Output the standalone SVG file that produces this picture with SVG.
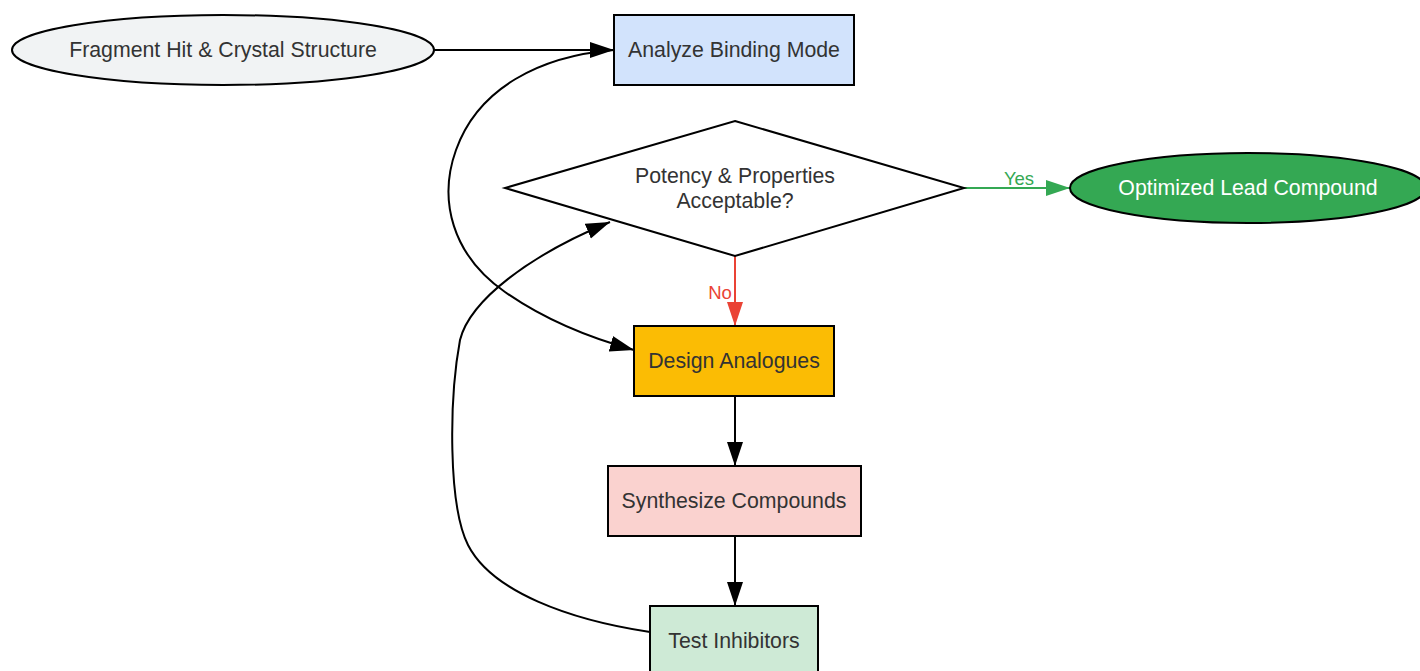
<svg xmlns="http://www.w3.org/2000/svg" width="1420" height="671" viewBox="0 0 1420 671">
<defs>
<style>
.node{stroke:#000;stroke-width:2}
.lbl{font-family:"Liberation Sans",Arial,sans-serif;font-size:21.3px;fill:#333;text-anchor:middle;dominant-baseline:central}
.edge{fill:none;stroke:#000;stroke-width:2}
.elbl{font-family:"Liberation Sans",Arial,sans-serif;font-size:18.5px;text-anchor:middle;dominant-baseline:central}
</style>
<marker id="ah" markerUnits="userSpaceOnUse" markerWidth="24" markerHeight="18" refX="24" refY="9" orient="auto" viewBox="0 0 24 18"><path d="M0,1 L24,9 L0,17 z" fill="#000"/></marker>
<marker id="ahg" markerUnits="userSpaceOnUse" markerWidth="24" markerHeight="18" refX="24" refY="9" orient="auto" viewBox="0 0 24 18"><path d="M0,1 L24,9 L0,17 z" fill="#34a853"/></marker>
<marker id="ahr" markerUnits="userSpaceOnUse" markerWidth="24" markerHeight="18" refX="24" refY="9" orient="auto" viewBox="0 0 24 18"><path d="M0,1 L24,9 L0,17 z" fill="#ea4335"/></marker>
</defs>
<rect width="1420" height="671" fill="#fff"/>
<g id="connectors">
<path class="edge" d="M434,50 L614,50" marker-end="url(#ah)"/>
<path class="edge" d="M614,50 C540,56 478,88 456,150 C438,200 452,255 505,292 C545,320 590,338 634,350" marker-end="url(#ah)"/>
<path class="edge" d="M650,632 C570,620 492,592 468,545 C448,505 449,400 460,340 C470,300 530,255 610,222" marker-end="url(#ah)"/>
<path class="edge" d="M964,188 L1070,188" style="stroke:#34a853" marker-end="url(#ahg)"/>
<text class="elbl" x="1019" y="178" fill="#34a853">Yes</text>
<path class="edge" d="M735,256 L735,326" style="stroke:#ea4335" marker-end="url(#ahr)"/>
<text class="elbl" x="720" y="292" fill="#ea4335">No</text>
<path class="edge" d="M735,396 L735,466" marker-end="url(#ah)"/>
<path class="edge" d="M735,536 L735,606" marker-end="url(#ah)"/>
</g>
<g id="fragment">
<ellipse class="node" cx="223" cy="50" rx="211" ry="35" fill="#f1f3f4"/>
<text class="lbl" x="223" y="50">Fragment Hit &amp; Crystal Structure</text>
</g>
<g id="analyze">
<rect class="node" x="614" y="15" width="240" height="70" fill="#d2e3fc"/>
<text class="lbl" x="734" y="50">Analyze Binding Mode</text>
</g>
<g id="decision">
<polygon class="node" points="735,121 964,188 735,256 505,188" fill="#fff"/>
<text class="lbl" x="735" y="176">Potency &amp; Properties</text>
<text class="lbl" x="735" y="201">Acceptable?</text>
</g>
<g id="lead">
<ellipse class="node" cx="1248" cy="188" rx="178" ry="35" fill="#34a853"/>
<text class="lbl" x="1248" y="188" style="fill:#fff">Optimized Lead Compound</text>
</g>
<g id="design">
<rect class="node" x="634" y="326" width="200" height="70" fill="#fbbc04"/>
<text class="lbl" x="734" y="361">Design Analogues</text>
</g>
<g id="synth">
<rect class="node" x="608" y="466" width="253" height="70" fill="#fad2cf"/>
<text class="lbl" x="734" y="501">Synthesize Compounds</text>
</g>
<g id="test">
<rect class="node" x="650" y="606" width="168" height="70" fill="#ceead6"/>
<text class="lbl" x="734" y="641">Test Inhibitors</text>
</g>
</svg>
